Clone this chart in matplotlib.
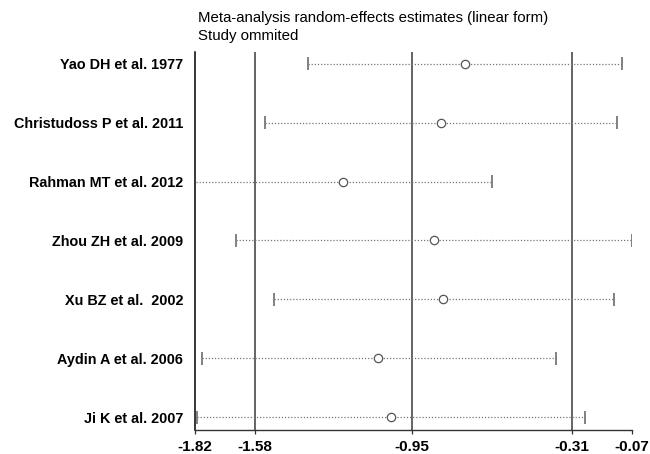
import numpy as np
import matplotlib
matplotlib.use("Agg")
import matplotlib.pyplot as plt

plt.rcParams['font.family'] = ['Liberation Sans', 'DejaVu Sans']

studies = ["Yao DH et al. 1977", "Christudoss P et al. 2011", "Rahman MT et al. 2012",
           "Zhou ZH et al. 2009", "Xu BZ et al.  2002", "Aydin A et al. 2006", "Ji K et al. 2007"]
estimate = [-0.74, -0.835, -1.229, -0.864, -0.825, -1.087, -1.033]
lower = [-1.369, -1.541, -1.815, -1.656, -1.505, -1.793, -1.811]
upper = [-0.108, -0.131, -0.632, -0.069, -0.143, -0.375, -0.257]
xticks = [-1.82, -1.58, -0.95, -0.31, -0.07]
reflines = [-1.58, -0.95, -0.31]

fig = plt.figure(figsize=(6.5, 4.54), dpi=100)
ax = fig.add_axes([0.3, 0.0529, 0.672, 0.8326])

ypos = np.arange(1, len(studies) + 1)

for v in reflines:
    ax.axvline(v, color='#3a3a3a', lw=1.1, zorder=1)

ax.hlines(ypos, lower, upper, colors='#777777', linestyles=(0, (1, 1.5)), lw=0.9, zorder=2)
# end caps (Rahman lower bound runs off the axis, no cap there)
keep = [i for i in range(len(studies)) if i != 2]
ax.vlines([lower[i] for i in keep], [ypos[i] - 0.11 for i in keep], [ypos[i] + 0.11 for i in keep],
          colors='#777777', lw=1.3, zorder=2)
ax.vlines(upper, ypos - 0.11, ypos + 0.11, colors='#777777', lw=1.3, zorder=2)
ax.plot(estimate, ypos, 'o', ms=6, mfc='white', mec='#555555', mew=0.9, zorder=3)

ax.set_xlim(-1.82, -0.07)
ax.set_ylim(7.22, 0.8)
ax.set_xticks(xticks)
ax.set_xticklabels([f"{t:.2f}" for t in xticks], fontsize=11, fontweight='bold')
ax.set_yticks(ypos)
ax.set_yticklabels(studies, fontsize=10.4, fontweight='bold')
ax.tick_params(axis='y', length=0, pad=8.6)
ax.tick_params(axis='x', length=3, width=0.9, color='#333333', pad=4.5)

ax.spines['top'].set_visible(False)
ax.spines['right'].set_visible(False)
ax.spines['left'].set_color('black')
ax.spines['bottom'].set_color('#333333')
ax.spines['left'].set_linewidth(1.1)
ax.spines['bottom'].set_linewidth(1.0)

fig.text(198 / 650, 1 - 18 / 454, "Meta-analysis random-effects estimates (linear form)",
         fontsize=10.8, va='center', ha='left')
fig.text(198 / 650, 1 - 36 / 454, "Study ommited", fontsize=10.8, va='center', ha='left')

plt.savefig("out.png", dpi=100)
plt.close()
